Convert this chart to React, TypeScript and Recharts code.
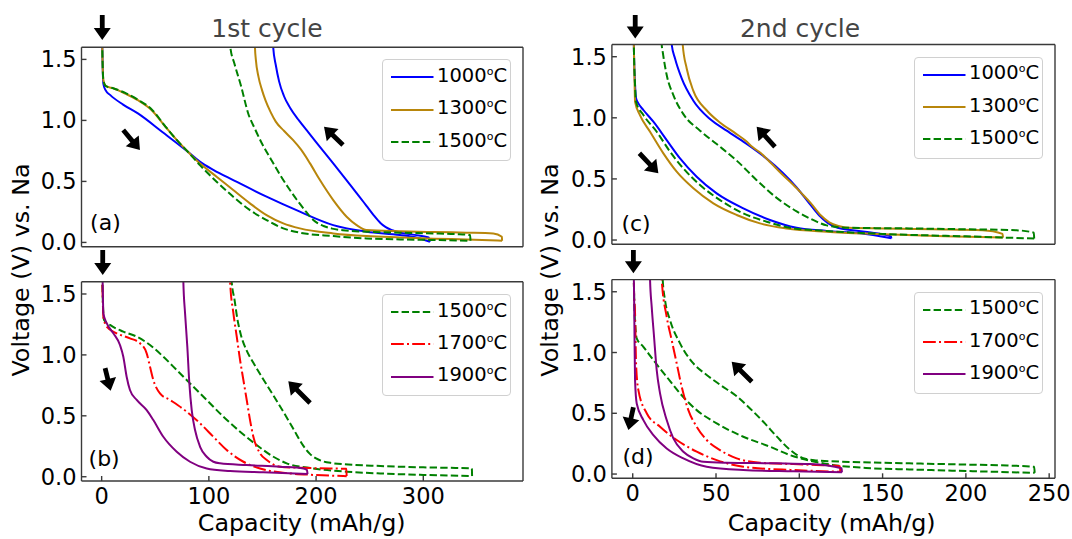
import React from 'react'
import { LineChart, Line, XAxis, YAxis, ReferenceLine, ReferenceDot } from 'recharts'

type Pt = [number, number]

const FONT = '"DejaVu Sans", Verdana, sans-serif'
const W = 1072
const H = 539

// (a) 1st cycle: 1000 / 1300 / 1500 C
const a1000Dis: Pt[] = [[0.3, 1.75], [0.8, 1.5], [1.6, 1.3], [3.5, 1.25], [8.1, 1.207], [20, 1.13], [33.8, 1.057], [56.3, 0.907], [80.4, 0.743], [91.6, 0.662], [104.5, 0.593], [122.7, 0.511], [153.8, 0.375], [184.9, 0.252], [216, 0.142], [247.1, 0.088], [278.2, 0.061], [295, 0.037], [306.2, 0.006]]
const a1000Chg: Pt[] = [[306.2, 0.006], [305, 0.04], [292, 0.062], [280, 0.078], [271, 0.1], [265, 0.125], [260, 0.16], [254, 0.22], [247, 0.3], [240, 0.38], [232, 0.47], [223, 0.57], [213, 0.68], [203, 0.79], [193, 0.9], [184, 1.0], [176, 1.1], [170, 1.2], [165.5, 1.32], [162.5, 1.45], [160, 1.6], [159.5, 1.7]]
const a1300Dis: Pt[] = [[0.3, 1.75], [0.8, 1.5], [1.6, 1.33], [4, 1.28], [11.3, 1.262], [22, 1.22], [33.8, 1.166], [46.7, 1.084], [59.5, 0.948], [70, 0.84], [80.4, 0.743], [91.6, 0.648], [107.2, 0.539], [122.7, 0.429], [138.3, 0.32], [153.8, 0.224], [169.4, 0.156], [184.9, 0.115], [216, 0.074], [247.1, 0.052], [278.2, 0.041], [309.3, 0.031], [340.4, 0.025], [373.5, 0.014]]
const a1300Chg: Pt[] = [[373.5, 0.014], [373.3, 0.047], [365.3, 0.074], [340.4, 0.08], [309.3, 0.085], [278.2, 0.091], [247.1, 0.101], [237.8, 0.142], [228.5, 0.211], [216, 0.347], [203.6, 0.511], [194.2, 0.65], [186, 0.76], [178.4, 0.84], [170, 0.915], [162.4, 0.99], [157.5, 1.07], [153, 1.16], [149.5, 1.25], [146.3, 1.357], [143.8, 1.5], [143, 1.6], [142.8, 1.7]]
const a1500Dis: Pt[] = [[0.3, 1.75], [0.8, 1.5], [1.6, 1.33], [4, 1.28], [11.3, 1.262], [22, 1.225], [33.8, 1.17], [46.7, 1.09], [59.5, 0.95], [70, 0.84], [80.4, 0.743], [91.6, 0.634], [107.2, 0.498], [122.7, 0.375], [138.3, 0.265], [153.8, 0.183], [169.4, 0.115], [184.9, 0.08], [216, 0.052], [247.1, 0.033], [278.2, 0.025], [309.3, 0.02], [344, 0.014]]
const a1500Chg: Pt[] = [[344, 0.014], [343.7, 0.06], [330, 0.068], [309.3, 0.074], [278.2, 0.08], [247.1, 0.088], [225, 0.1], [215, 0.113], [207, 0.135], [201, 0.16], [195, 0.205], [189, 0.27], [182, 0.35], [174, 0.45], [166, 0.56], [158, 0.68], [149.5, 0.811], [143, 0.93], [136.7, 1.057], [130.2, 1.276], [123.8, 1.467], [120, 1.6], [119.7, 1.7]]

// (b) 1st cycle: 1500 / 1700 / 1900 C
const b1500Dis: Pt[] = [[0.3, 1.75], [0.9, 1.5], [2.2, 1.287], [7.8, 1.246], [20.2, 1.191], [32.7, 1.15], [45.1, 1.081], [57.5, 0.985], [70, 0.876], [82.4, 0.766], [98, 0.63], [113.5, 0.493], [129.1, 0.37], [144.6, 0.26], [160.2, 0.164], [172.6, 0.11], [197.5, 0.068], [228.6, 0.041], [259.7, 0.027], [300, 0.015], [345.5, 0.006]]
const b1500Chg: Pt[] = [[345.5, 0.006], [345.3, 0.068], [330, 0.072], [300, 0.077], [260, 0.088], [230, 0.1], [215, 0.112], [207, 0.125], [200, 0.15], [194, 0.19], [188, 0.255], [179, 0.39], [170, 0.525], [160, 0.67], [150, 0.81], [141.5, 0.935], [135, 1.04], [130, 1.16], [126.5, 1.3], [124, 1.45], [121.3, 1.6], [121, 1.7]]
const b1700Dis: Pt[] = [[0.3, 1.75], [0.9, 1.5], [1.6, 1.314], [4.7, 1.232], [14, 1.177], [26.4, 1.136], [35.8, 1.095], [42, 1.013], [45.1, 0.903], [48.2, 0.794], [54.4, 0.684], [63.8, 0.63], [79.3, 0.534], [91.8, 0.438], [104.2, 0.328], [116.6, 0.219], [132.2, 0.123], [147.7, 0.068], [172.6, 0.03], [197.5, 0.015], [228.5, 0.005]]
const b1700Chg: Pt[] = [[228.5, 0.005], [228.3, 0.065], [200, 0.07], [180, 0.075], [166.4, 0.082], [154, 0.137], [147.7, 0.192], [141.5, 0.328], [138.4, 0.465], [135.3, 0.63], [132.2, 0.794], [129.1, 0.958], [126, 1.15], [122.9, 1.341], [119.8, 1.6], [119.5, 1.7]]
const b1900Dis: Pt[] = [[0.3, 1.75], [0.9, 1.6], [1.6, 1.34], [4.7, 1.26], [10.9, 1.177], [17.1, 1.081], [20.2, 0.985], [23.3, 0.821], [26.4, 0.712], [32.7, 0.63], [42, 0.547], [48.2, 0.465], [57.5, 0.328], [70, 0.205], [82.4, 0.123], [98, 0.068], [119.8, 0.047], [150.9, 0.036], [192, 0.022]]
const b1900Chg: Pt[] = [[192, 0.022], [191.5, 0.055], [188.2, 0.068], [166.4, 0.082], [135.3, 0.096], [110.4, 0.11], [104.2, 0.123], [98, 0.164], [91.8, 0.246], [87.1, 0.383], [84, 0.547], [81.8, 0.766], [79.9, 1.068], [77.8, 1.341], [76.2, 1.6], [76, 1.7]]

// (c) 2nd cycle: 1000 / 1300 / 1500 C
const c1000Dis: Pt[] = [[0.5, 1.75], [0.8, 1.5], [1.3, 1.3], [2, 1.16], [3.4, 1.118], [6.4, 1.064], [12.4, 0.968], [20.4, 0.818], [28.4, 0.668], [38.4, 0.518], [50.4, 0.382], [66.4, 0.259], [82.4, 0.164], [98.4, 0.1], [116.4, 0.074], [136.4, 0.055], [155.3, 0.014]]
const c1000Chg: Pt[] = [[155.3, 0.014], [155, 0.03], [146.4, 0.055], [132, 0.08], [123, 0.1], [117, 0.14], [112, 0.2], [106, 0.3], [98.4, 0.43], [90, 0.55], [80, 0.67], [68, 0.79], [56.4, 0.895], [46.4, 0.99], [36.4, 1.14], [29.4, 1.323], [25.4, 1.486], [23.4, 1.6], [23, 1.7]]
const c1300Dis: Pt[] = [[0.5, 1.75], [0.8, 1.5], [1.1, 1.3], [1.4, 1.13], [4.4, 1.02], [10.4, 0.886], [18.4, 0.709], [26.4, 0.559], [36.4, 0.423], [48.4, 0.3], [62.4, 0.205], [76.4, 0.136], [92.4, 0.095], [116.4, 0.068], [146.4, 0.049], [187.5, 0.03], [222.3, 0.02]]
const c1300Chg: Pt[] = [[222.3, 0.02], [222, 0.05], [210, 0.08], [180, 0.088], [150, 0.095], [130, 0.1], [123.5, 0.115], [118, 0.145], [113, 0.2], [107, 0.3], [101.5, 0.38], [96.5, 0.45], [89.5, 0.54], [83, 0.63], [77, 0.71], [71.5, 0.765], [68, 0.81], [61.5, 0.875], [52.5, 0.96], [44.5, 1.06], [36.4, 1.22], [32.4, 1.404], [30, 1.6], [29.6, 1.7]]
const c1500Dis: Pt[] = [[0.5, 1.75], [0.8, 1.5], [1.3, 1.3], [2, 1.13], [6.4, 1.023], [14.4, 0.886], [22.4, 0.723], [30.4, 0.586], [40.4, 0.45], [52.4, 0.327], [66.4, 0.218], [80.4, 0.15], [94.4, 0.1], [116.4, 0.074], [150, 0.05], [200, 0.03], [241, 0.012]]
const c1500Chg: Pt[] = [[241, 0.012], [240.8, 0.06], [230, 0.08], [200, 0.088], [166, 0.095], [130, 0.1], [116.4, 0.12], [110.4, 0.15], [104.4, 0.19], [98.4, 0.235], [86.4, 0.345], [74.4, 0.49], [62.4, 0.65], [50.4, 0.785], [40.4, 0.895], [30.4, 1.03], [24.4, 1.186], [20.4, 1.35], [18, 1.54], [17.4, 1.6], [17.2, 1.7]]

// (d) 2nd cycle: 1500 / 1700 / 1900 C
const d1500Dis: Pt[] = [[0.5, 1.75], [0.8, 1.5], [1.2, 1.3], [1.6, 1.21], [2.4, 1.116], [6.4, 1.047], [12.4, 0.938], [20.4, 0.8], [28.4, 0.664], [38.4, 0.526], [50.4, 0.417], [66.4, 0.307], [82.4, 0.225], [94.4, 0.156], [106.4, 0.11], [120, 0.075], [140, 0.05], [166, 0.038], [200, 0.025], [241.3, 0.01]]
const d1500Chg: Pt[] = [[241.3, 0.01], [241, 0.06], [220, 0.072], [200, 0.078], [166, 0.088], [130, 0.1], [110, 0.112], [102.4, 0.13], [94.4, 0.2], [86.4, 0.31], [78.4, 0.43], [70.4, 0.54], [62.4, 0.64], [52.4, 0.735], [44.4, 0.815], [36.4, 0.91], [28.4, 1.075], [22.4, 1.267], [19.4, 1.431], [18, 1.6], [17.8, 1.7]]
const d1700Dis: Pt[] = [[0.5, 1.75], [0.8, 1.5], [1.4, 1.32], [2, 0.91], [3.4, 0.69], [8.4, 0.5], [16.4, 0.389], [26.4, 0.28], [38.4, 0.184], [50.4, 0.115], [66.4, 0.06], [96.4, 0.033], [124.6, 0.019]]
const d1700Chg: Pt[] = [[124.6, 0.019], [124.4, 0.065], [110, 0.075], [96.4, 0.082], [76.4, 0.093], [62.4, 0.129], [52.4, 0.197], [44.4, 0.28], [38.4, 0.389], [33.4, 0.526], [29.4, 0.718], [26.4, 0.91], [23.4, 1.102], [20.4, 1.294], [17.4, 1.6], [17, 1.7]]
const d1900Dis: Pt[] = [[0.5, 1.75], [0.8, 1.5], [1.1, 1.1], [1.4, 0.773], [2.4, 0.581], [6.4, 0.444], [12.4, 0.321], [20.4, 0.211], [30.4, 0.129], [44.4, 0.06], [66.4, 0.033], [96.4, 0.022], [125.6, 0.014]]
const d1900Chg: Pt[] = [[125.6, 0.014], [125.4, 0.047], [106.4, 0.082], [86.4, 0.088], [56.4, 0.093], [42.4, 0.101], [36.4, 0.129], [30.4, 0.184], [24.4, 0.293], [20.4, 0.444], [16.4, 0.664], [14.4, 0.855], [12.8, 1.13], [11.4, 1.376], [10.4, 1.6], [10.2, 1.7]]

// arrows (tail -> tip) in data units
const aArrows: Pt[][] = [[[0.56, 1.864], [0.56, 1.659]], [[20.1, 0.921], [35.7, 0.757]], [[225.1, 0.798], [207.4, 0.948]]]
const bArrows: Pt[][] = [[[1.0, 1.861], [1.0, 1.656]], [[3.2, 0.892], [8.4, 0.706]], [[194.4, 0.605], [174.1, 0.783]]]
const cArrows: Pt[][] = [[[1.5, 1.841], [1.5, 1.65]], [[4, 0.71], [15.4, 0.546]], [[85.4, 0.763], [74.4, 0.927]]]
const dArrows: Pt[][] = [[[0.4, 1.844], [0.4, 1.652]], [[0.4, 0.549], [-2.6, 0.362]], [[71.5, 0.76], [59.4, 0.924]]]

const xTicks1 = [0, 100, 200, 300]
const xTicks2 = [0, 50, 100, 150, 200, 250]
const yTicks = [0, 0.5, 1.0, 1.5]
const yDomain: [number, number] = [-0.035, 1.6]

const BLUE = '#0000ff'
const GOLD = '#b8860b'
const GREEN = '#008000'
const RED = '#ff0000'
const PURPLE = '#800080'
const DASH = '7.4 3.2'
const DASHDOT = '12.8 3.2 2 3.2'

interface Curve { name: string; color: string; dash?: string; dis: Pt[]; chg: Pt[] }
interface PanelDef {
  L: number; R: number; T: number; B: number
  xDomain: [number, number]
  xTicks: number[]
  xLabels: boolean
  curves: Curve[]
  arrows: Pt[][]
  tag: string
  tagAt: Pt
}

const panels: PanelDef[] = [
  {
    L: 81.5, R: 523, T: 47.2, B: 246.7, xDomain: [-18.8, 393], xTicks: xTicks1, xLabels: false,
    curves: [
      { name: '1000', color: BLUE, dis: a1000Dis, chg: a1000Chg },
      { name: '1300', color: GOLD, dis: a1300Dis, chg: a1300Chg },
      { name: '1500', color: GREEN, dash: DASH, dis: a1500Dis, chg: a1500Chg },
    ],
    arrows: aArrows, tag: '(a)', tagAt: [3.5, 0.165],
  },
  {
    L: 81.5, R: 523, T: 281.8, B: 481, xDomain: [-18.8, 393], xTicks: xTicks1, xLabels: true,
    curves: [
      { name: '1500', color: GREEN, dash: DASH, dis: b1500Dis, chg: b1500Chg },
      { name: '1700', color: RED, dash: DASHDOT, dis: b1700Dis, chg: b1700Chg },
      { name: '1900', color: PURPLE, dis: b1900Dis, chg: b1900Chg },
    ],
    arrows: bArrows, tag: '(b)', tagAt: [2.3, 0.151],
  },
  {
    L: 611.9, R: 1055, T: 44.5, B: 244.3, xDomain: [-12.5, 253.5], xTicks: xTicks2, xLabels: false,
    curves: [
      { name: '1000', color: BLUE, dis: c1000Dis, chg: c1000Chg },
      { name: '1300', color: GOLD, dis: c1300Dis, chg: c1300Chg },
      { name: '1500', color: GREEN, dash: DASH, dis: c1500Dis, chg: c1500Chg },
    ],
    arrows: cArrows, tag: '(c)', tagAt: [2, 0.137],
  },
  {
    L: 611.9, R: 1055, T: 279.6, B: 478.3, xDomain: [-12.5, 253.5], xTicks: xTicks2, xLabels: true,
    curves: [
      { name: '1500', color: GREEN, dash: DASH, dis: d1500Dis, chg: d1500Chg },
      { name: '1700', color: RED, dash: DASHDOT, dis: d1700Dis, chg: d1700Chg },
      { name: '1900', color: PURPLE, dis: d1900Dis, chg: d1900Chg },
    ],
    arrows: dArrows, tag: '(d)', tagAt: [3.2, 0.142],
  },
]

const frame = { stroke: '#3a3a3a', strokeWidth: 1.4 }
const tickText = { fill: '#000', fontSize: 22.5, fontFamily: FONT }

const toRows = (pts: Pt[]) => pts.map(([q, v]) => ({ q, v }))

const arrowShape = (p: any) => {
  const { x1, y1, x2, y2 } = p
  const dx = x2 - x1
  const dy = y2 - y1
  const len = Math.hypot(dx, dy) || 1
  const ux = dx / len
  const uy = dy / len
  const nx = -uy
  const ny = ux
  const hl = 12
  const hw = 8.5
  const sw = 2.4
  const bx = x2 - ux * hl
  const by = y2 - uy * hl
  const pts = [
    [x1 + nx * sw, y1 + ny * sw],
    [bx + nx * sw, by + ny * sw],
    [bx + nx * hw, by + ny * hw],
    [x2, y2],
    [bx - nx * hw, by - ny * hw],
    [bx - nx * sw, by - ny * sw],
    [x1 - nx * sw, y1 - ny * sw],
  ]
  return <polygon points={pts.map((q) => q.join(',')).join(' ')} fill="#000" />
}

function Panel({ p }: { p: PanelDef }) {
  return (
    <div style={{ position: 'absolute', left: 0, top: 0 }}>
      <LineChart
        width={W}
        height={H}
        margin={{ left: p.L - 1, top: p.T - 1, right: W - p.R - 1, bottom: H - p.B - 1 }}
      >
        <XAxis
          dataKey="q"
          type="number"
          domain={p.xDomain}
          allowDataOverflow
          ticks={p.xTicks}
          interval={0}
          height={1}
          tickSize={-5}
          tickMargin={12}
          axisLine={frame}
          tickLine={frame}
          tick={p.xLabels ? tickText : false}
        />
        <XAxis xAxisId="top" orientation="top" type="number" domain={p.xDomain} allowDataOverflow height={1} tick={false} tickLine={false} axisLine={frame} />
        <YAxis
          type="number"
          domain={yDomain}
          allowDataOverflow
          ticks={yTicks}
          interval={0}
          width={1}
          tickSize={-5}
          tickMargin={10}
          axisLine={frame}
          tickLine={frame}
          tick={tickText}
          tickFormatter={(v: number) => v.toFixed(1)}
        />
        <YAxis yAxisId="right" orientation="right" type="number" domain={yDomain} allowDataOverflow width={1} tick={false} tickLine={false} axisLine={frame} />
        {p.arrows.map((a, i) => (
          <ReferenceLine
            key={'ar' + i}
            segment={[{ x: a[0][0], y: a[0][1] }, { x: a[1][0], y: a[1][1] }]}
            ifOverflow="visible"
            shape={arrowShape}
          />
        ))}
        {p.curves.flatMap((c) => [
          <Line key={c.name + 'd'} data={toRows(c.dis)} dataKey="v" type="monotone" stroke={c.color} strokeWidth={2} strokeDasharray={c.dash} dot={false} activeDot={false} isAnimationActive={false} />,
          <Line key={c.name + 'c'} data={toRows(c.chg)} dataKey="v" type="monotone" stroke={c.color} strokeWidth={2} strokeDasharray={c.dash} dot={false} activeDot={false} isAnimationActive={false} />,
        ])}
        <ReferenceDot
          x={p.tagAt[0]}
          y={p.tagAt[1]}
          r={0}
          shape={(s: any) => (
            <text x={s.cx} y={s.cy} textAnchor="middle" dominantBaseline="central" fontSize={22} fontFamily={FONT} fill="#000">
              {p.tag}
            </text>
          )}
        />
      </LineChart>
    </div>
  )
}

function LegendBox({ p }: { p: PanelDef }) {
  const boxW = 129
  const left = p.R - 12 - boxW
  const top = p.T + 12
  return (
    <div
      style={{
        position: 'absolute', left, top, width: boxW, height: 102, boxSizing: 'border-box',
        border: '1px solid #d0d0d0', borderRadius: 4, background: 'rgba(255,255,255,0.85)',
      }}
    >
      {p.curves.map((c, i) => (
        <div key={c.name} style={{ position: 'absolute', left: 0, top: 17.3 + i * 32.3 - 13, height: 26, display: 'flex', alignItems: 'center' }}>
          <svg width={54} height={26} style={{ display: 'block' }}>
            <line x1={8} x2={50.5} y1={13} y2={13} stroke={c.color} strokeWidth={2} strokeDasharray={c.dash} />
          </svg>
          <span style={{ fontFamily: FONT, fontSize: 19.5, color: '#000', lineHeight: '26px', whiteSpace: 'nowrap' }}>
            {c.name}
            <span style={{ fontSize: 11, position: 'relative', top: -7 }}>o</span>C
          </span>
        </div>
      ))}
    </div>
  )
}

export default function App() {
  return (
    <div style={{ position: 'relative', width: W, height: H, background: '#fff', overflow: 'hidden' }}>
      <style>{'body{margin:0}'}</style>
      {panels.map((p, i) => (
        <Panel key={i} p={p} />
      ))}
      {panels.map((p, i) => (
        <LegendBox key={'lg' + i} p={p} />
      ))}
      <svg width={W} height={H} style={{ position: 'absolute', left: 0, top: 0, pointerEvents: 'none' }}>
        <g fontFamily={FONT}>
          <text x={267} y={37} textAnchor="middle" fontSize={25} fill="#444">1st cycle</text>
          <text x={800} y={37} textAnchor="middle" fontSize={25} fill="#444">2nd cycle</text>
          <text x={301.7} y={531} textAnchor="middle" fontSize={23.8} fill="#000">Capacity (mAh/g)</text>
          <text x={831.7} y={531} textAnchor="middle" fontSize={23.8} fill="#000">Capacity (mAh/g)</text>
          <text x={29} y={270} textAnchor="middle" fontSize={23.8} fill="#000" transform="rotate(-90 29 270)">Voltage (V) vs. Na</text>
          <text x={557.5} y={270} textAnchor="middle" fontSize={23.8} fill="#000" transform="rotate(-90 557.5 270)">Voltage (V) vs. Na</text>
        </g>
      </svg>
    </div>
  )
}
